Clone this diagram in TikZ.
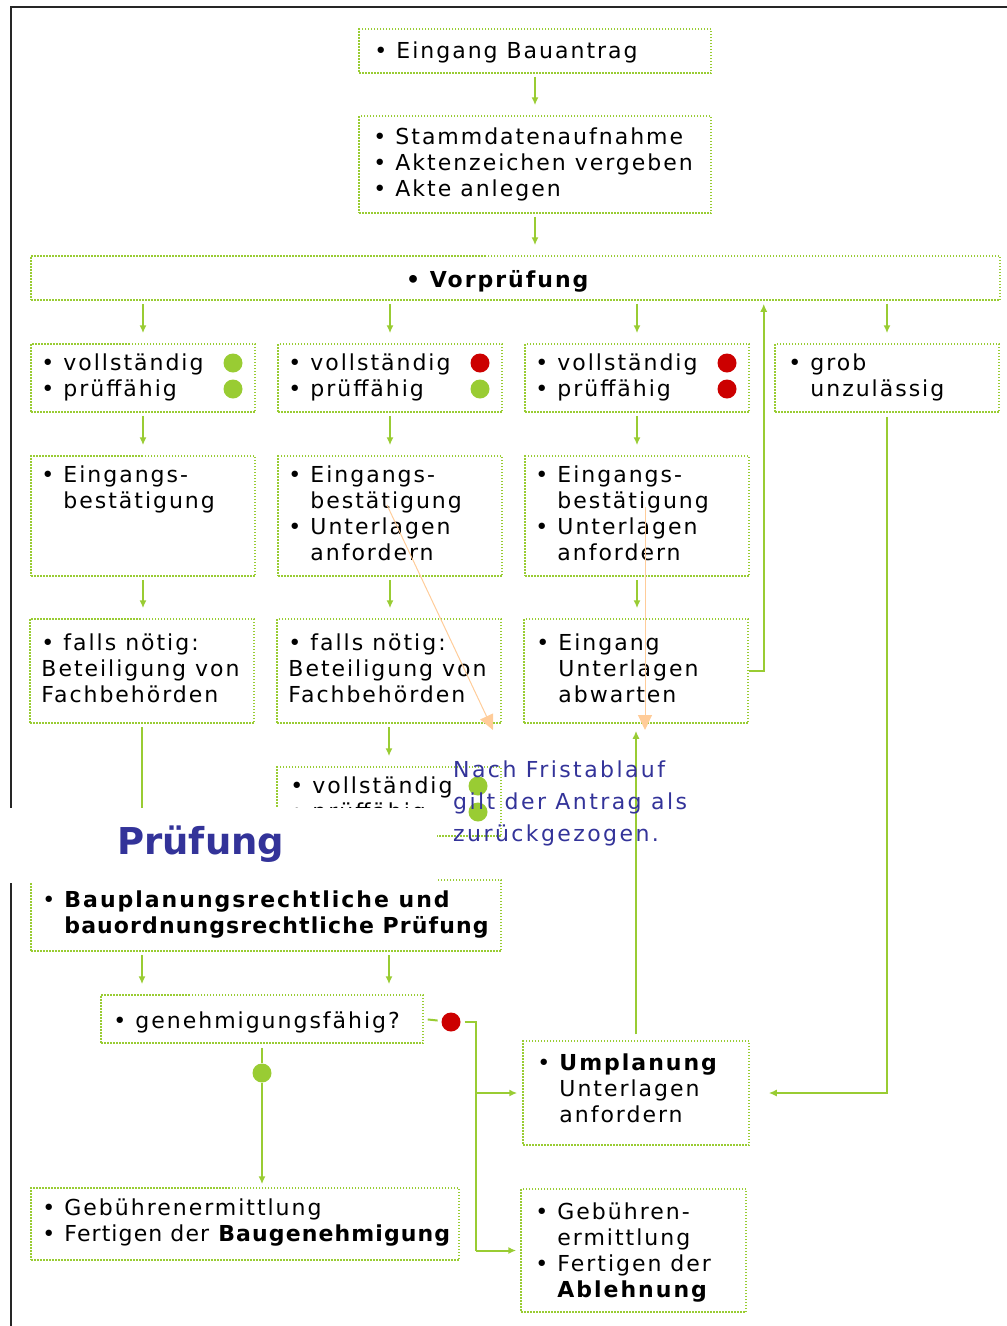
\documentclass[tikz,border=0pt]{standalone}
\usepackage{fontspec}
\setmainfont{DejaVu Sans}[LetterSpace=9]
\newfontfamily\titelfont{DejaVu Sans}
\usetikzlibrary{arrows.meta,fit}
\definecolor{gruen}{HTML}{99CC33}
\definecolor{rot}{HTML}{CC0000}
\definecolor{hinweis}{HTML}{333399}
\definecolor{pfirsich}{HTML}{FFCC99}
\newcommand{\bul}{\makebox[22pt][l]{\textbullet}}% bullet plus gap
\newcommand{\ein}{\hspace*{22pt}}% hanging indent
\newcommand{\eng}{\addfontfeatures{LetterSpace=5}}% tighter tracking
\newcommand{\kasten}[5][13,30]{%
	\node[kasten, fit={#3 #4}] (#2) {};
	\node[inhalt] (#2t) at ([shift={(#1)}, yshift=18.2pt]#2.north west) {#5};
}
\tikzset{
	kasten/.style={draw=gruen, line width=1.5pt, dash pattern=on 1.5pt off 1.5pt, inner sep=0pt},
	inhalt/.style={anchor=north west, align=left, inner sep=0pt, font=\fontsize{22}{26}\selectfont, execute at begin node=\strut},
	pfeil/.style={draw=gruen, line width=2pt, -{Latex[length=8pt,width=7pt]}, shorten <=3pt, shorten >=10pt},
	linie/.style={draw=gruen, line width=2pt},
	punkt/.style={circle, inner sep=0pt, minimum size=19pt},
	frist/.style={draw=pfirsich, line width=1pt, -{Triangle[length=15pt,width=14pt]}},
}
\begin{document}
\begin{tikzpicture}[x=1pt, y=-1pt]
	\useasboundingbox (0,0) rectangle (1007,1326);
	\draw[line width=2pt, black!85] (1007,7) -| (11,1326);
	
	%--- Eingang ---
	\kasten[16,30]{ein}{(359,29)}{(711,73)}{\bul Eingang Bauantrag}
	\kasten[15,31]{akte}{(359,116)}{(711,213)}{\bul Stammdatenaufnahme\\\bul Aktenzeichen vergeben\\\bul Akte anlegen}
	\node[kasten, fit={(31,256) (1000,300)}] (vor) {};
	\node[inhalt, anchor=base west, font=\bfseries\fontsize{22}{26}\selectfont] (vort) at (406,287) {\textbullet\ Vorprüfung};
	
	%--- Vorprüfung: Ergebnis ---
	\foreach \n/\x in {1/31,2/278,3/525}{
		\kasten[11,29]{v\n}{(\x,344)}{(\x+224,412)}{\bul vollständig\\\bul prüffähig}
	}
	\kasten[14,29]{grob}{(775,344)}{(999,412)}{\bul grob\\\ein unzulässig}
	\foreach \x/\y/\f [count=\i] in {233/363/gruen,233/389/gruen,480/363/rot,480/389/gruen,727/363/rot,727/389/rot}
		\node[punkt, fill=\f] (p\i) at (\x,\y) {};
	
	\kasten[11,29]{b1}{(31,456)}{(255,576)}{\bul Eingangs-\\\ein bestätigung}
	\kasten[11,29]{b2}{(278,456)}{(502,576)}{\bul Eingangs-\\\ein bestätigung\\\bul Unterlagen\\\ein anfordern}
	\kasten[11,29]{b3}{(525,456)}{(749,576)}{\bul Eingangs-\\\ein bestätigung\\\bul Unterlagen\\\ein anfordern}
	
	\kasten[12,34]{f1}{(30,619)}{(254,723)}{\bul falls nötig:\\Beteiligung von\\Fachbehörden}
	\kasten[12,34]{f2}{(277,619)}{(501,723)}{\bul falls nötig:\\Beteiligung von\\Fachbehörden}
	\kasten[13,34]{w3}{(524,619)}{(748,723)}{\bul Eingang\\\ein Unterlagen\\\ein abwarten}
	
	\kasten[14,29]{v4}{(277,767)}{(501,836)}{\bul vollständig\\\bul prüffähig}
	\node[punkt, fill=gruen] (p7) at (478,786) {};
	\node[punkt, fill=gruen] (p8) at (478,812) {};
	
	%--- Prüfung ---
	\kasten[12,30]{bau}{(31,880)}{(501,951)}{\bul\textbf{Bauplanungsrechtliche und}\\\ein\eng\textbf{bauordnungsrechtliche Prüfung}}
	\kasten[13,34]{gen}{(101,995)}{(423,1043)}{\bul genehmigungsfähig?}
	\kasten[12,30]{geb}{(31,1188)}{(459,1260)}{\bul Gebührenermittlung\\\bul\eng Fertigen der \textbf{Baugenehmigung}}
	\kasten[15,32]{ump}{(523,1041)}{(749,1145)}{\bul\textbf{Umplanung}\\\ein Unterlagen\\\ein anfordern}
	\kasten[15,33]{abl}{(521,1189)}{(746,1312)}{\bul Gebühren-\\\ein ermittlung\\\bul Fertigen der\\\ein\textbf{Ablehnung}}
	\node[punkt, fill=rot, outer sep=4pt] (nein) at (451,1022) {};
	\node[punkt, fill=gruen] (ja) at (262,1073) {};
	\coordinate (knick) at (476,1022);
	
	%--- Pfeile ---
	\draw[pfeil] (ein) -- (akte);
	\draw[pfeil] (akte.south) -- (akte.south |- vor.north);
	\foreach \n in {v1,v2,v3,grob}
		\draw[pfeil] (vor.south -| \n.north) -- (\n.north);
	\foreach \n/\m in {v1/b1,v2/b2,v3/b3}
		\draw[pfeil] (\n) -- (\m);
	\foreach \n/\m in {b1/f1,b2/f2,b3/w3}
		\draw[pfeil] (\n.south) -- (\n.south |- \m.north);
	\draw[pfeil] (f2.south) -- (f2.south |- v4.north);
	\draw[linie, shorten <=3pt] (f1.south) -- (f1.south |- bau.north);
	\draw[pfeil] (bau.south -| f1.south) -- (gen.north -| f1.south);
	\draw[pfeil] (bau.south -| v4.south) -- (gen.north -| v4.south);
	\draw[linie, shorten <=4pt] (gen) -- (ja);
	\draw[pfeil, shorten <=0pt, shorten >=3pt] (ja) -- (geb.north -| ja);
	\draw[linie, shorten <=4pt] (gen.east) -- (nein);
	\draw[linie] (nein) -- (knick) -- (knick |- abl.west);
	\draw[pfeil, shorten <=0pt, shorten >=5pt] (knick |- ump.west) -- (ump.west);
	\draw[pfeil, shorten <=0pt, shorten >=4pt] (knick |- abl.west) -- (abl.west);
	\draw[pfeil, shorten <=6pt, shorten >=7pt] (ump) -- (w3);
	\draw[pfeil, shorten <=0pt, shorten >=3pt] (w3.east) -- ([xshift=15pt]w3.east) -- ([xshift=15pt]w3.east |- vor.south);
	\draw[pfeil, shorten <=4pt, shorten >=19pt] (grob.south) |- (ump.east);
	
	% Fristablauf
	\coordinate (fa) at (387,505);
	\coordinate (fa2) at (493,730);
	\coordinate (fb) at (645,507);
	\coordinate (fb2) at (645,730);
	\draw[frist] (fa) -- (fa2);
	\draw[frist] (fb) -- (fb2);
	
	\fill[white] (0,808) rectangle (437,883);
	\node[anchor=base west, inner sep=0pt, text=hinweis, font=\titelfont\bfseries\fontsize{37}{44}\selectfont] (pruef) at (117,854) {Prüfung};
	\node[inhalt, text=hinweis, font=\fontsize{22}{32}\selectfont\addfontfeatures{LetterSpace=11}] (frist) at (453,760.6) {Nach Fristablauf\\gilt der Antrag als\\zurückgezogen.};
\end{tikzpicture}
\end{document}
